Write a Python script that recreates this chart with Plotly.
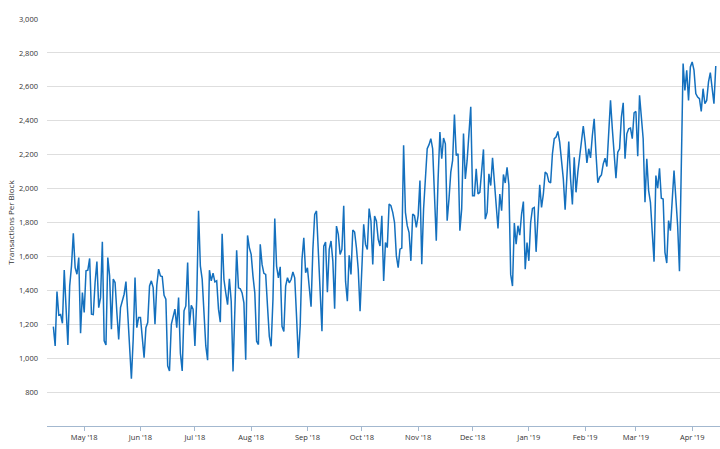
import pandas as pd
import plotly.graph_objects as go

start_date = "2018-04-14"

seg_apr_jul = [1186,1072,1393,1253,1257,1206,1519,1250,1078,
    1426,1544,1737,1534,1495,1593,1147,1387,1269,1515,
    1519,1588,1259,1257,1446,1570,1298,1357,1686,1102,
    1078,1593,1485,1170,1466,1446,1269,1110,1298,
    1348,1377,1452,1249,1043,879,1112,1475,1180,1240,
    1240,1112,1003,1180,1210,1426,1456,1416,1200,1430,
    1525,1485,1481,1371,1348,954,925,1200,1240,1289,
    1180,1357,1029,925,1279,1308,1564,1194,1312,
    1289,1072,1348,1869,1544,1466,1249,1072,988,1519,
    1456,1501,1450,1456,1289]

seg_jul_oct = [1212,1734,1464,1385,1316,1468,1336,922,1307,1636,
    1415,1409,1385,1326,991,1724,1651,1612,1484,1385,
    1100,1080,1671,1553,1500,1494,1307,1129,1070,1346,
    1823,1543,1474,1539,1188,1157,1425,1474,1444,1464,
    1508,1474,1247,1001,1188,1582,1710,1504,1533,1425,
    1303,1641,1848,1868,1641,1326,1159,1661,1685,
    1389,1641,1691,1572,1291,1779,1730,1612,1641,1898,
    1454,1336,1606,1494,1756,1744,1651,1523,1277,1504,
    1789,1671,1641,1882,1809,1553,1838,1809,1701,1661]

seg_oct_jan = [1840,1455,1682,1652,1909,1899,1860,1800,1603,1534,
    1643,1649,2255,1860,1781,1741,1574,1850,1840,1771,
    1840,2047,1554,1880,2097,2235,2259,2294,2235,1998,
    1692,2057,2334,2176,2298,2264,1810,1939,2097,
    2166,2436,2195,2205,1751,1880,2324,2057,2166,2353,
    2482,1958,1958,2116,1968,1978,2087,2231,1820,1860,
    2087,2018,2182,2028,1899,1765,1968,1870,2083,2033,
    2126,2022,1494,1425,1797,1672,1781,1725,1850,
    1923,1524,1682,1574,1800,1883,1889,1627,1860,2022,
    1889,1968,2097,2087,2041,2033]

seg_jan_apr = [2205,2294,2304,2337,2274,2176,2057,1876,2097,2278,
    2057,1906,2185,1978,2097,2185,2284,2369,2274,2152,
    2235,2181,2313,2412,2205,2034,2067,2081,2146,2179,
    2130,2313,2520,2353,2215,2061,2215,2235,2422,2506,
    2176,2323,2353,2357,2294,2447,2455,2191,2550,2441,
    2294,1919,2176,1988,1919,1742,1569,2077,2002,
    2120,1943,1939,1624,1561,1811,1752,1939,2107,1943,
    1781,1512,2097,2737,2579,2698,2520,2717,2747,2698,
    2560,2540,2530,2455,2589,2501,2520,2629,2684,2579,
    2501,2723]

values = seg_apr_jul + seg_jul_oct + seg_oct_jan + seg_jan_apr
dates = pd.date_range(start_date, periods=len(values), freq="D")

month_ticks = ["2018-05-01","2018-06-01","2018-07-01","2018-08-01","2018-09-01",
               "2018-10-01","2018-11-01","2018-12-01","2019-01-01","2019-02-01",
               "2019-03-01","2019-04-01"]
month_labels = ["May '18","Jun '18","Jul '18","Aug '18","Sep '18","Oct '18",
                "Nov '18","Dec '18","Jan '19","Feb '19","Mar '19","Apr '19"]
y_ticks = [800,1000,1200,1400,1600,1800,2000,2200,2400,2600,2800,3000]
y_labels = ["800","1,000","1,200","1,400","1,600","1,800","2,000","2,200",
            "2,400","2,600","2,800","3,000"]

fig = go.Figure()
fig.add_trace(go.Scatter(x=dates, y=values, mode="lines",
                         line=dict(color="#1470be", width=1.5),
                         hoverinfo="x+y"))

font_family = "Open Sans, DejaVu Sans, sans-serif"
fig.update_layout(
    width=720, height=449,
    margin=dict(l=47, r=0, t=19, b=23),
    paper_bgcolor="white", plot_bgcolor="white",
    showlegend=False,
    font=dict(family=font_family, size=7.5, color="#333333"),
    xaxis=dict(
        range=["2018-04-10 12:00", "2019-04-16 08:00"],
        tickvals=month_ticks, ticktext=month_labels,
        ticks="outside", ticklen=4, tickcolor="#a3b8cf", tickwidth=1,
        showgrid=False, showline=True, linecolor="#a3b8cf", linewidth=1,
        zeroline=False, automargin=False,
        tickfont=dict(size=7.5, color="#333333"),
    ),
    yaxis=dict(
        range=[600, 3000],
        tickvals=y_ticks, ticktext=y_labels,
        showgrid=True, gridcolor="#dedede", gridwidth=1,
        showline=False, zeroline=False, ticks="",
        ticklabelstandoff=8, automargin=False,
        tickfont=dict(size=7.5, color="#333333"),
        title=dict(text="Transactions Per Block", standoff=3,
                   font=dict(size=8, color="#333333")),
    ),
)

fig.write_html("out.html", config={"displayModeBar": False},
               post_script="document.body.style.margin='0';document.body.style.overflow='hidden';")
